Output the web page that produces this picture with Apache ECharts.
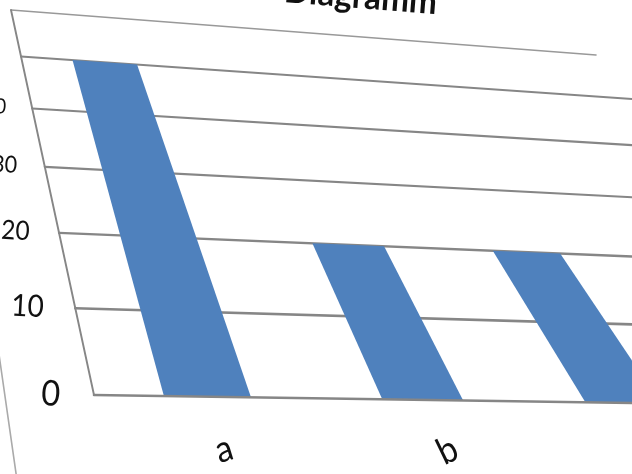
<!DOCTYPE html>
<html><head><meta charset="utf-8">
<style>html,body{margin:0;padding:0;background:#fff}#c{width:632px;height:474px}</style>
<script src="https://cdn.jsdelivr.net/npm/echarts@6/dist/echarts.min.js"></script>
</head><body><div id="c"></div>
<script>
const chartTitle = 'Diagramm';
const categories = ['a', 'b', 'c', 'd'];
const values = [50, 20, 20, null];
const yTicks = [0, 10, 20, 30, 40, 50, 60];
const yMax = 60;

const W = 632, H = 474;
// Plane -> photo homography: the original is a photograph of a chart seen at an angle.
const A = 941.6, B = -78, C = 94, D = 73.8, E = -380.5, F = 395, G = 0.1519, I = 0.4547;
function warp(px, py) {
  const s = px / W, t = 1 - py / H, w = G * s + I * t + 1;
  return { x: (A * s + B * t + C) / w, y: (D * s + E * t + F) / w, w };
}
function P(px, py) { const p = warp(px, py); return [p.x, p.y]; }
const GREY = '#868686';
function gridEdges(api) {
  const band = api.size([1, 0])[0];
  return { band, x0: api.coord([0, 0])[0] - band / 2, x1: api.coord([categories.length - 1, 0])[0] + band / 2 };
}
function seg(a, b, stroke, lw) {
  return { type: 'line', shape: { x1: a[0], y1: a[1], x2: b[0], y2: b[1] }, style: { stroke, lineWidth: lw, lineCap: 'round' } };
}
function text(str, p, rotDeg, size, align, vAlign, weight, sx) {
  return { type: 'text', x: p.x, y: p.y, rotation: rotDeg * Math.PI / 180, scaleX: sx || 1,
    style: { text: str, fill: '#111', textAlign: align, textVerticalAlign: vAlign,
      font: (weight || 'normal') + ' ' + size + 'px Lato' } };
}

const option = {
  animation: false,
  backgroundColor: '#fff',
  grid: { left: 0, top: 0, width: W, height: H },
  xAxis: { type: 'category', data: categories, show: false },
  yAxis: { type: 'value', min: 0, max: yMax, interval: 10, show: false },
  series: [
    { // horizontal gridlines
      type: 'custom', silent: true, clip: false, z: 1,
      data: yTicks.slice(1).map(v => [0, v]),
      renderItem(p, api) {
        const e = gridEdges(api), y = api.coord([0, api.value(1)])[1];
        const a = warp(e.x0, y);
        const top = api.value(1) === yMax;
        return seg(P(e.x0, y), P(e.x1, y), top ? '#999' : GREY, top ? 1.5 : 2.7 / a.w);
      }
    },
    { // bars
      type: 'custom', silent: true, clip: false, z: 2,
      data: values.map((v, i) => [i, v]),
      renderItem(p, api) {
        const val = api.value(1);
        if (val == null || isNaN(val)) return null;
        const c = api.coord([api.value(0), val]), z = api.coord([api.value(0), 0]);
        const hw = api.size([1, 0])[0] * 0.195;
        return { type: 'polygon',
          shape: { points: [P(c[0] - hw, z[1]), P(c[0] + hw, z[1]), P(c[0] + hw, c[1]), P(c[0] - hw, c[1])] },
          style: { fill: '#4F81BD' } };
      }
    },
    { // axis lines, and the chart-area border running down the lower left
      type: 'custom', silent: true, clip: false, z: 3,
      data: [[0, 0]],
      renderItem(p, api) {
        const e = gridEdges(api), y0 = api.coord([0, 0])[1], yT = api.coord([0, yMax])[1];
        const bx = e.x0 - 0.38 * e.band;
        return { type: 'group', children: [
          seg(P(e.x0, y0), P(e.x1, y0), GREY, 2.6),
          seg(P(e.x0, y0), P(e.x0, yT), GREY, 1.9),
          seg(P(bx, api.coord([0, 10])[1]), P(bx, api.coord([0, -12])[1]), '#aaa', 1.6)
        ] };
      }
    },
    { // value labels
      type: 'custom', silent: true, clip: false, z: 4,
      data: yTicks.map(v => [0, v]),
      renderItem(p, api) {
        const e = gridEdges(api), v = api.value(1), y = api.coord([0, v])[1];
        const a = warp(e.x0 - 0.145 * e.band, y);
        return text(String(v), a, -3, 35 / (a.w * a.w), 'right', 'middle', 'normal', 0.92);
      }
    },
    { // category labels
      type: 'custom', silent: true, clip: false, z: 4,
      data: categories.map((c, i) => [i, 0]),
      renderItem(p, api) {
        const i = api.value(0), c = api.coord([i, -5.5]), q = api.coord([i, 10]);
        const a = warp(c[0], c[1]), b = warp(q[0], q[1]);
        const ang = Math.atan2(b.x - a.x, b.y - a.y) * 180 / Math.PI;
        const rot = 180 - Math.abs(ang);
        return text(categories[i], a, rot, 37, 'center', 'middle', 'normal', 0.9);
      }
    },
    { // title
      type: 'custom', silent: true, clip: false, z: 4,
      data: [[0, 0]],
      renderItem() {
        const a = warp(W * 0.62, H * (1 - 1.17));
        return text(chartTitle, a, -4.6, 34, 'center', 'middle', 'bold', 0.98);
      }
    }
  ]
};
const chart = echarts.init(document.getElementById('c'), null, { renderer: 'canvas', width: W, height: H });
chart.setOption(option);
</script></body></html>
